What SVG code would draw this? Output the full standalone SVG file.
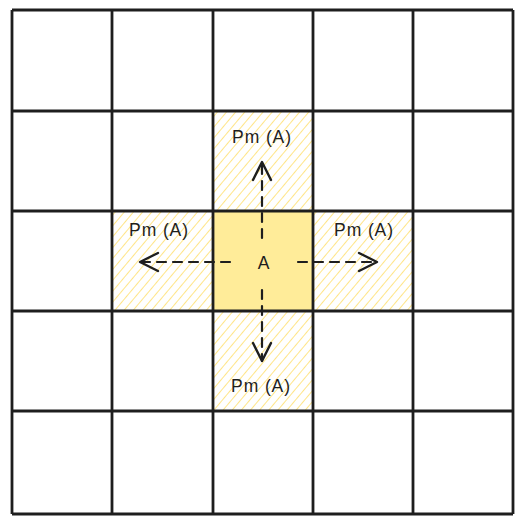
<svg xmlns="http://www.w3.org/2000/svg" width="525" height="524" viewBox="0 0 525 524">
<defs>
<pattern id="hatch" patternUnits="userSpaceOnUse" width="7" height="7" patternTransform="rotate(40)">
<line x1="0" y1="0" x2="0" y2="7" stroke="#ffe27a" stroke-width="1.8"/>
</pattern>
<marker id="ah" viewBox="0 0 24 24" refX="22" refY="12" markerWidth="24" markerHeight="24" markerUnits="userSpaceOnUse" orient="auto">
<path d="M4 3 L22 12 L4 21" fill="none" stroke="#1e1e1e" stroke-width="2.4" stroke-linecap="round" stroke-linejoin="round"/>
</marker>
<style>
.cell{fill:none;stroke:#1e1e1e;stroke-width:2.8}
.hat{fill:url(#hatch);stroke:#ffe27a;stroke-width:1;stroke-dasharray:4 3}
.conn{fill:none;stroke:#1e1e1e;stroke-width:2.2;stroke-dasharray:9 7;stroke-linecap:round}
.lbl{font-family:"Liberation Sans",Arial,sans-serif;font-size:17.5px;letter-spacing:0.9px;fill:#1e1e1e;text-anchor:middle}
</style>
</defs>
<rect width="525" height="524" fill="#ffffff"/>
<g id="fills">
<rect id="cell-top" class="hat" x="213" y="111" width="100" height="100"/>
<rect id="cell-left" class="hat" x="112" y="211" width="101" height="100"/>
<rect id="cell-right" class="hat" x="313" y="211" width="100" height="100"/>
<rect id="cell-bottom" class="hat" x="213" y="311" width="100" height="100"/>
<rect id="cell-center" x="213" y="211" width="100" height="100" fill="#ffec99"/>
</g>
<g id="grid">
<path class="cell" d="M12 10 H513 M12 111 H513 M12 211 H513 M12 311 H513 M12 411 H513 M12 514 H513"/>
<path class="cell" d="M12 10 V514 M112 10 V514 M213 10 V514 M313 10 V514 M413 10 V514 M513 10 V514"/>
</g>
<g id="connectors">
<path class="conn" d="M262 238 V162" marker-end="url(#ah)"/>
<path class="conn" d="M230 262 H140" marker-end="url(#ah)"/>
<path class="conn" d="M298 262 H377" marker-end="url(#ah)"/>
<path class="conn" d="M262 290 V361" marker-end="url(#ah)"/>
</g>
<g id="labels">
<text id="label-A" class="lbl" x="264" y="269">A</text>
<text id="label-top" class="lbl" x="262" y="143">Pm (A)</text>
<text id="label-left" class="lbl" x="159" y="236">Pm (A)</text>
<text id="label-right" class="lbl" x="364" y="236">Pm (A)</text>
<text id="label-bottom" class="lbl" x="261" y="392">Pm (A)</text>
</g>
</svg>
